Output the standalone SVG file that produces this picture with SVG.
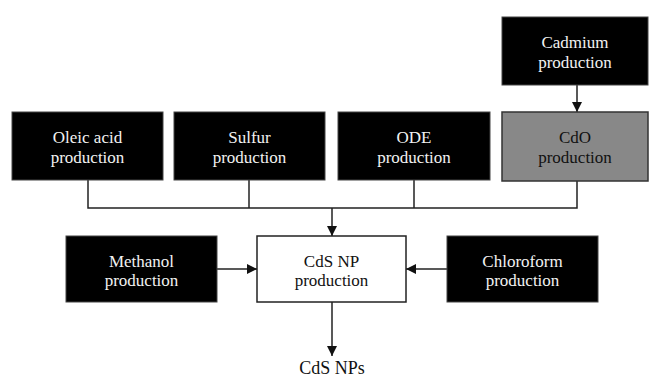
<svg xmlns="http://www.w3.org/2000/svg" width="649" height="379" viewBox="0 0 649 379">
<style>
.blk{fill:#000;stroke:#444;stroke-width:1}
.gry{fill:#888;stroke:#333;stroke-width:1.5}
.wht{fill:#fff;stroke:#222;stroke-width:1.5}
text{font-family:"Liberation Serif","Times New Roman",serif;font-size:17px;text-anchor:middle}
.lw{fill:#f2f2f2}
.ld{fill:#111}
.ln{fill:none;stroke:#222;stroke-width:1.5}
</style>
<defs>
<marker id="ah" viewBox="0 0 10 10" refX="10" refY="5" markerWidth="10" markerHeight="10" markerUnits="userSpaceOnUse" orient="auto">
<path d="M0,0 L10,5 L0,10 z" fill="#111"/>
</marker>
</defs>
<rect width="649" height="379" fill="#fff"/>
<g id="connectors">
<line class="ln" x1="577" y1="85" x2="577" y2="112" marker-end="url(#ah)"/>
<polyline class="ln" points="88,180 88,208 577,208 577,181"/>
<line class="ln" x1="249" y1="180" x2="249" y2="208"/>
<line class="ln" x1="414" y1="180" x2="414" y2="208"/>
<line class="ln" x1="332" y1="208" x2="332" y2="236" marker-end="url(#ah)"/>
<line class="ln" x1="217" y1="269" x2="257" y2="269" marker-end="url(#ah)"/>
<line class="ln" x1="447" y1="269" x2="406" y2="269" marker-end="url(#ah)"/>
<line class="ln" x1="332" y1="302" x2="332" y2="356" marker-end="url(#ah)"/>
</g>
<g id="cadmium">
<rect class="blk" x="502" y="17" width="146" height="68"/>
<text class="lw" x="575" y="48">Cadmium</text>
<text class="lw" x="575" y="68">production</text>
</g>
<g id="oleic">
<rect class="blk" x="12" y="112" width="151" height="68"/>
<text class="lw" x="87.5" y="143">Oleic acid</text>
<text class="lw" x="87.5" y="163">production</text>
</g>
<g id="sulfur">
<rect class="blk" x="174" y="112" width="151" height="68"/>
<text class="lw" x="249.5" y="143">Sulfur</text>
<text class="lw" x="249.5" y="163">production</text>
</g>
<g id="ode">
<rect class="blk" x="338" y="112" width="152" height="68"/>
<text class="lw" x="414" y="143">ODE</text>
<text class="lw" x="414" y="163">production</text>
</g>
<g id="cdo">
<rect class="gry" x="502" y="112" width="146" height="69"/>
<text class="ld" x="575" y="143">CdO</text>
<text class="ld" x="575" y="163">production</text>
</g>
<g id="methanol">
<rect class="blk" x="66" y="236" width="151" height="66"/>
<text class="lw" x="141.5" y="267">Methanol</text>
<text class="lw" x="141.5" y="286">production</text>
</g>
<g id="cdsnp">
<rect class="wht" x="257" y="236" width="149" height="66"/>
<text class="ld" x="331.5" y="267">CdS NP</text>
<text class="ld" x="331.5" y="286">production</text>
</g>
<g id="chloroform">
<rect class="blk" x="447" y="236" width="151" height="66"/>
<text class="lw" x="522.5" y="267">Chloroform</text>
<text class="lw" x="522.5" y="286">production</text>
</g>
<g id="cdsnps">
<text class="ld" x="332" y="374" style="font-size:18px">CdS NPs</text>
</g>
</svg>
